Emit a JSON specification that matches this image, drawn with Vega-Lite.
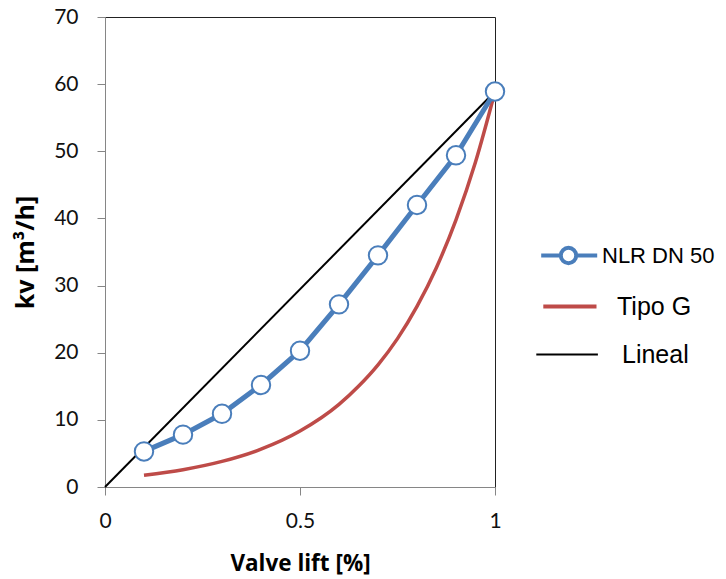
{
  "$schema": "https://vega.github.io/schema/vega-lite/v6.json",
  "width": 390,
  "height": 470,
  "autosize": "none",
  "padding": {"left": 105, "top": 17, "right": 231, "bottom": 92},
  "background": "white",
  "config": {
    "view": {"stroke": "#222", "strokeWidth": 1},
    "font": "Lato"
  },
  "datasets": {
    "nlr": [
      {"lift": 0.1, "kv": 5.3, "series": "NLR DN 50"},
      {"lift": 0.2, "kv": 7.8, "series": "NLR DN 50"},
      {"lift": 0.3, "kv": 10.9, "series": "NLR DN 50"},
      {"lift": 0.4, "kv": 15.2, "series": "NLR DN 50"},
      {"lift": 0.5, "kv": 20.3, "series": "NLR DN 50"},
      {"lift": 0.6, "kv": 27.2, "series": "NLR DN 50"},
      {"lift": 0.7, "kv": 34.5, "series": "NLR DN 50"},
      {"lift": 0.8, "kv": 42.0, "series": "NLR DN 50"},
      {"lift": 0.9, "kv": 49.4, "series": "NLR DN 50"},
      {"lift": 1.0, "kv": 58.9, "series": "NLR DN 50"}
    ],
    "curves": [
      {"lift": 0.1, "kv": 1.75, "series": "Tipo G"},
      {"lift": 0.2, "kv": 2.58, "series": "Tipo G"},
      {"lift": 0.3, "kv": 3.81, "series": "Tipo G"},
      {"lift": 0.4, "kv": 5.63, "series": "Tipo G"},
      {"lift": 0.5, "kv": 8.33, "series": "Tipo G"},
      {"lift": 0.6, "kv": 12.3, "series": "Tipo G"},
      {"lift": 0.65, "kv": 15.0, "series": "Tipo G"},
      {"lift": 0.7, "kv": 18.2, "series": "Tipo G"},
      {"lift": 0.75, "kv": 22.1, "series": "Tipo G"},
      {"lift": 0.8, "kv": 26.9, "series": "Tipo G"},
      {"lift": 0.85, "kv": 32.7, "series": "Tipo G"},
      {"lift": 0.9, "kv": 39.8, "series": "Tipo G"},
      {"lift": 0.95, "kv": 48.4, "series": "Tipo G"},
      {"lift": 1.0, "kv": 58.9, "series": "Tipo G"},
      {"lift": 0.0, "kv": 0.0, "series": "Lineal"},
      {"lift": 1.0, "kv": 58.9, "series": "Lineal"}
    ]
  },
  "encoding": {
    "x": {
      "field": "lift", "type": "quantitative",
      "scale": {"domain": [0, 1], "nice": false},
      "axis": {
        "title": "Valve lift [%]", "values": [0, 0.5, 1], "format": "~g", "grid": false,
        "domainColor": "#868686", "tickColor": "#868686", "tickSize": 8,
        "labelFontSize": 21, "labelColor": "#111", "labelPadding": 15,
        "labelFont": "Lato", "labelFlush": false,
        "titleFont": "Open Sans", "titleFontSize": 22.5, "titleFontWeight": "bold", "titleColor": "#000",
        "titlePadding": 21
      }
    },
    "y": {
      "field": "kv", "type": "quantitative",
      "scale": {"domain": [0, 70], "nice": false},
      "axis": {
        "title": "kv [m³/h]", "values": [0, 10, 20, 30, 40, 50, 60, 70], "grid": false,
        "domainColor": "#868686", "tickColor": "#868686", "tickSize": 8,
        "labelFontSize": 21, "labelColor": "#111", "labelPadding": 19,
        "labelFont": "Lato", "labelFlush": false,
        "titleFont": "Open Sans", "titleFontSize": 25, "titleFontWeight": "bold", "titleColor": "#000",
        "titlePadding": 15
      }
    },
    "color": {
      "field": "series", "type": "nominal",
      "scale": {"domain": ["NLR DN 50", "Tipo G", "Lineal"], "range": ["#4A7EBB", "#BE4B48", "#000000"]},
      "legend": {
        "title": null,
        "orient": "none",
        "legendX": 451,
        "legendY": 226,
        "padding": 0,
        "symbolSize": 784,
        "symbolStrokeWidth": 3,
        "symbolFillColor": "white",
        "labelFont": "Liberation Sans",
        "labelFontSize": 22,
        "labelColor": "#000",
        "labelOffset": 19,
        "rowPadding": 22,
        "encode": {
          "symbols": {
            "update": {
              "shape": {"signal": "datum.value === 'NLR DN 50' ? 'M-1.95,0H-0.55M0.55,0H2.05M0.55,0A0.55,0.55 0 1,1 -0.55,0A0.55,0.55 0 1,1 0.55,0' : datum.value === 'Tipo G' ? 'M-1.8,0H2' : 'M-2.3,0H2.1'"},
              "strokeWidth": {"signal": "datum.value === 'NLR DN 50' ? 4 : datum.value === 'Tipo G' ? 4 : 2"},
              "fill": {"value": "white"},
              "opacity": {"value": 1}
            }
          },
          "labels": {
            "update": {
              "fontSize": {"signal": "datum.value === 'NLR DN 50' ? 22 : 25"},
              "dx": {"signal": "datum.value === 'Tipo G' ? 17 : datum.value === 'Lineal' ? 22 : 2"}
            }
          }
        }
      }
    }
  },
  "layer": [
    {
      "data": {"name": "curves"},
      "mark": {"type": "line", "interpolate": "monotone"},
      "encoding": {
        "strokeWidth": {"condition": {"test": "datum.series === 'Lineal'", "value": 2}, "value": 3.5}
      }
    },
    {
      "data": {"name": "nlr"},
      "mark": {"type": "line", "strokeWidth": 5},
      "encoding": {}
    },
    {
      "data": {"name": "nlr"},
      "mark": {"type": "point", "shape": "circle", "filled": true, "fill": "white", "size": 340, "strokeWidth": 2, "opacity": 1},
      "encoding": {
        "color": null,
        "stroke": {"value": "#4A7EBB"}
      }
    }
  ]
}
